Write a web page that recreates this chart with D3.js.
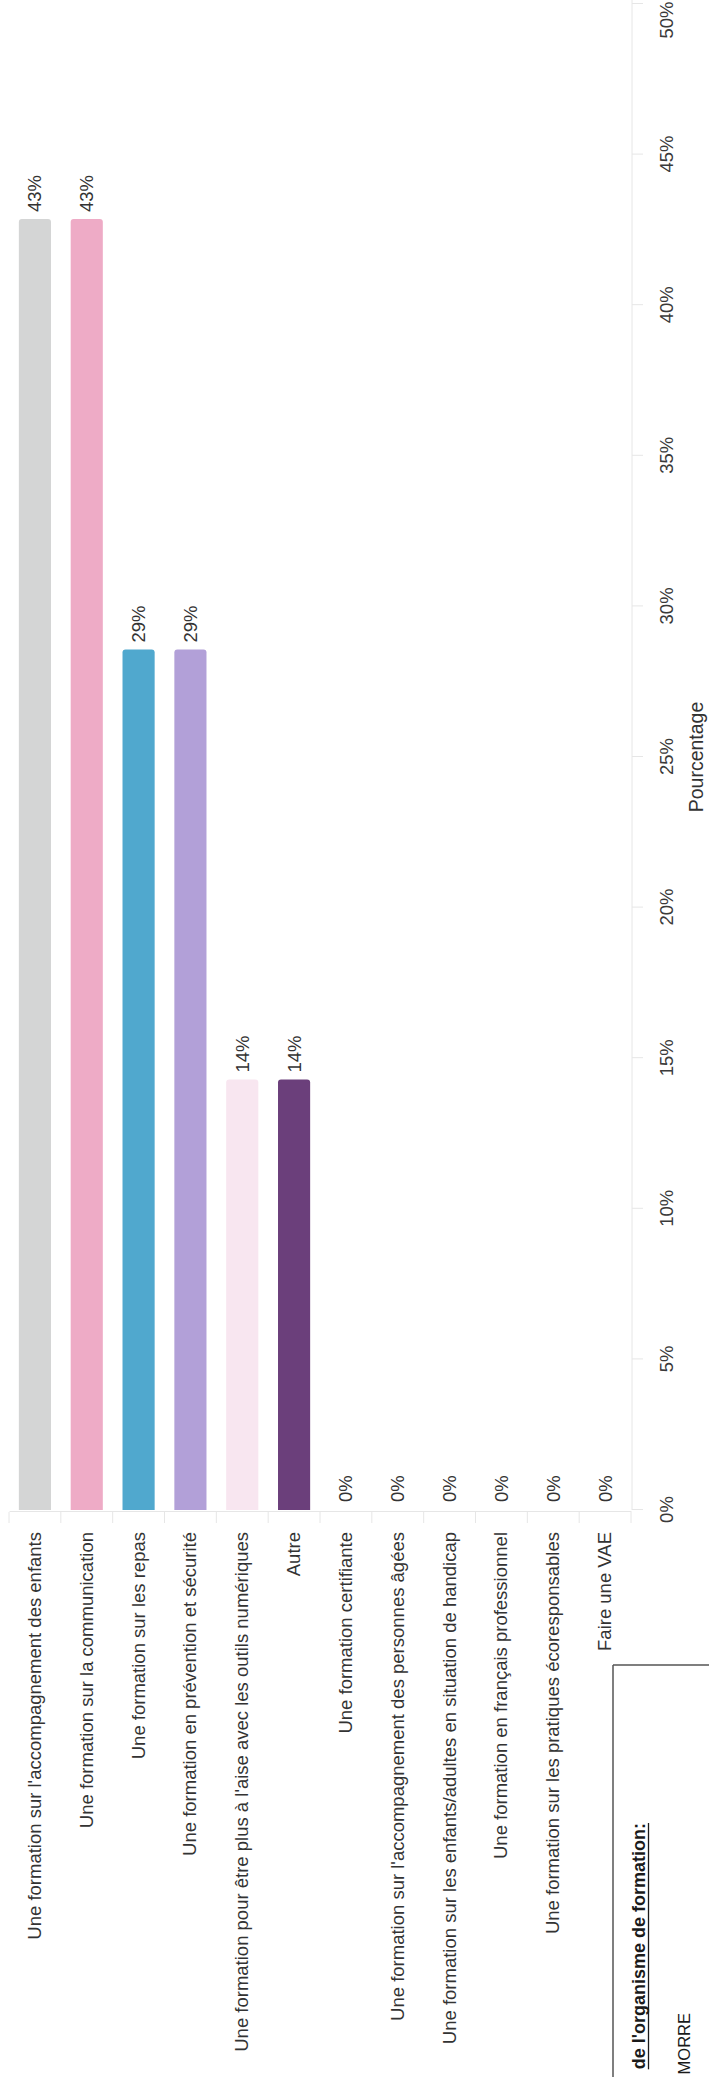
<!DOCTYPE html>
<html>
<head>
<meta charset="utf-8">
<script src="https://cdn.jsdelivr.net/npm/d3@7"></script>
<style>
  html, body { margin: 0; padding: 0; background: #ffffff; }
  svg { display: block; font-family: "Liberation Sans", Arial, Helvetica, sans-serif; }
</style>
</head>
<body>
<script>
// ---- data ----
const categories = [
  "Une formation sur l'accompagnement des enfants",
  "Une formation sur la communication",
  "Une formation sur les repas",
  "Une formation en prévention et sécurité",
  "Une formation pour être plus à l'aise avec les outils numériques",
  "Autre",
  "Une formation certifiante",
  "Une formation sur l'accompagnement des personnes âgées",
  "Une formation sur les enfants/adultes en situation de handicap",
  "Une formation en français professionnel",
  "Une formation sur les pratiques écoresponsables",
  "Faire une VAE"
];
const values = [42.86, 42.86, 28.57, 28.57, 14.29, 14.29, 0, 0, 0, 0, 0, 0];
const colors = ["#d4d5d5", "#eeabc6", "#50a8ce", "#b2a0d8", "#f8e6f0", "#6b3f7b",
                "#cccccc", "#cccccc", "#cccccc", "#cccccc", "#cccccc", "#cccccc"];
const tickValues = [0, 5, 10, 15, 20, 25, 30, 35, 40, 45, 50];
const tickLabels = ["0%", "5%", "10%", "15%", "20%", "25%", "30%", "35%", "40%", "45%", "50%"];
const axisTitle = "Pourcentage";
const boxTitle = "de l'organisme de formation:";
const boxValue = "MORRE";

// ---- layout ----
const W = 709, H = 2077;
const svg = d3.select("body").append("svg").attr("width", W).attr("height", H);

// Chart is drawn as a horizontal bar chart in a frame rotated by -90deg
const g = svg.append("g").attr("transform", `translate(0,${H}) rotate(-90)`);

const x = d3.scaleLinear().domain([0, 50]).range([567, 2073]);
const y = d3.scaleBand().domain(categories).range([9, 631]).paddingInner(0.38).paddingOuter(0.19);

const axisColor = "#e6e6e6";
const textColor = "#333333";

// value axis (bottom in rotated frame)
const xAxis = g.append("g")
  .attr("transform", "translate(0,632)")
  .call(d3.axisBottom(x).tickValues(tickValues)
        .tickFormat((d, i) => tickLabels[i]).tickSize(11).tickSizeOuter(0).tickPadding(17));
xAxis.select(".domain").attr("stroke", axisColor).attr("d", `M${x(0)},0H${H}`);
xAxis.selectAll(".tick line").attr("stroke", axisColor);
xAxis.selectAll(".tick text").attr("fill", "#3a3a3a").style("font-size", "18.5px");
// keep the last label inside the picture
xAxis.selectAll(".tick").each(function(d) {
  const t = d3.select(this).select("text");
  const w = t.node().getComputedTextLength();
  if (x(d) + w / 2 > H - 2) {
    t.attr("text-anchor", "end").attr("x", (H - 2) - x(d));
  }
});

// category axis (left in rotated frame)
const yAxis = g.append("g")
  .attr("transform", "translate(565,0)")
  .call(d3.axisLeft(y).tickSize(0).tickSizeOuter(0).tickPadding(20));
yAxis.select(".domain").attr("stroke", axisColor);
yAxis.selectAll(".tick text").attr("fill", textColor).style("font-size", "18.5px");

// boundary ticks of the category axis
const bounds = categories.map(c => y(c) - y.step() * y.paddingInner() / 2)
  .concat([y(categories[categories.length - 1]) + y.bandwidth() + y.step() * y.paddingInner() / 2]);
g.append("g").selectAll("line").data(bounds).join("line")
  .attr("x1", 554).attr("x2", 565)
  .attr("y1", d => d).attr("y2", d => d)
  .attr("stroke", axisColor);

// bars with rounded ends
const r = 3;
g.append("g").selectAll("path").data(values.map((v, i) => ({ v, c: categories[i], col: colors[i] })).filter(d => d.v > 0))
  .join("path")
  .attr("fill", d => d.col)
  .attr("d", d => {
    const x0 = x(0), x1 = x(d.v), y0 = y(d.c), h = y.bandwidth();
    return `M${x0},${y0}H${x1 - r}Q${x1},${y0} ${x1},${y0 + r}V${y0 + h - r}Q${x1},${y0 + h} ${x1 - r},${y0 + h}H${x0}Z`;
  });

// value labels
const fmt = d3.format(".0f");
g.append("g").selectAll("text").data(values).join("text")
  .attr("x", d => x(d) + (d > 0 ? 7 : 8))
  .attr("y", (d, i) => y(categories[i]) + y.bandwidth() / 2)
  .attr("dy", "0.35em")
  .attr("fill", textColor)
  .style("font-size", "18.5px")
  .text(d => fmt(d) + "%");

// axis title
g.append("text")
  .attr("x", (x(0) + x(50)) / 2)
  .attr("y", 703)
  .attr("text-anchor", "middle")
  .attr("fill", textColor)
  .style("font-size", "19.5px")
  .text(axisTitle);

// ---- form box at the bottom right ----
svg.append("line").attr("x1", 613).attr("y1", 1665).attr("x2", W).attr("y2", 1665)
  .attr("stroke", "#555").attr("stroke-width", 1.5);
svg.append("line").attr("x1", 613).attr("y1", 1665).attr("x2", 613).attr("y2", H)
  .attr("stroke", "#555").attr("stroke-width", 1.5);

const bt = g.append("text")
  .attr("x", 254).attr("y", 645)
  .attr("text-anchor", "end")
  .attr("fill", "#1a1a1a")
  .style("font-size", "18px")
  .style("font-weight", "bold")
  .text(boxTitle);
const bl = bt.node().getComputedTextLength();
g.append("line").attr("x1", 254 - bl).attr("x2", 254).attr("y1", 648.5).attr("y2", 648.5)
  .attr("stroke", "#1a1a1a").attr("stroke-width", 1.3);

g.append("text")
  .attr("x", 64).attr("y", 690)
  .attr("text-anchor", "end")
  .attr("fill", "#1a1a1a")
  .style("font-size", "16.5px")
  .text(boxValue);
</script>
</body>
</html>
